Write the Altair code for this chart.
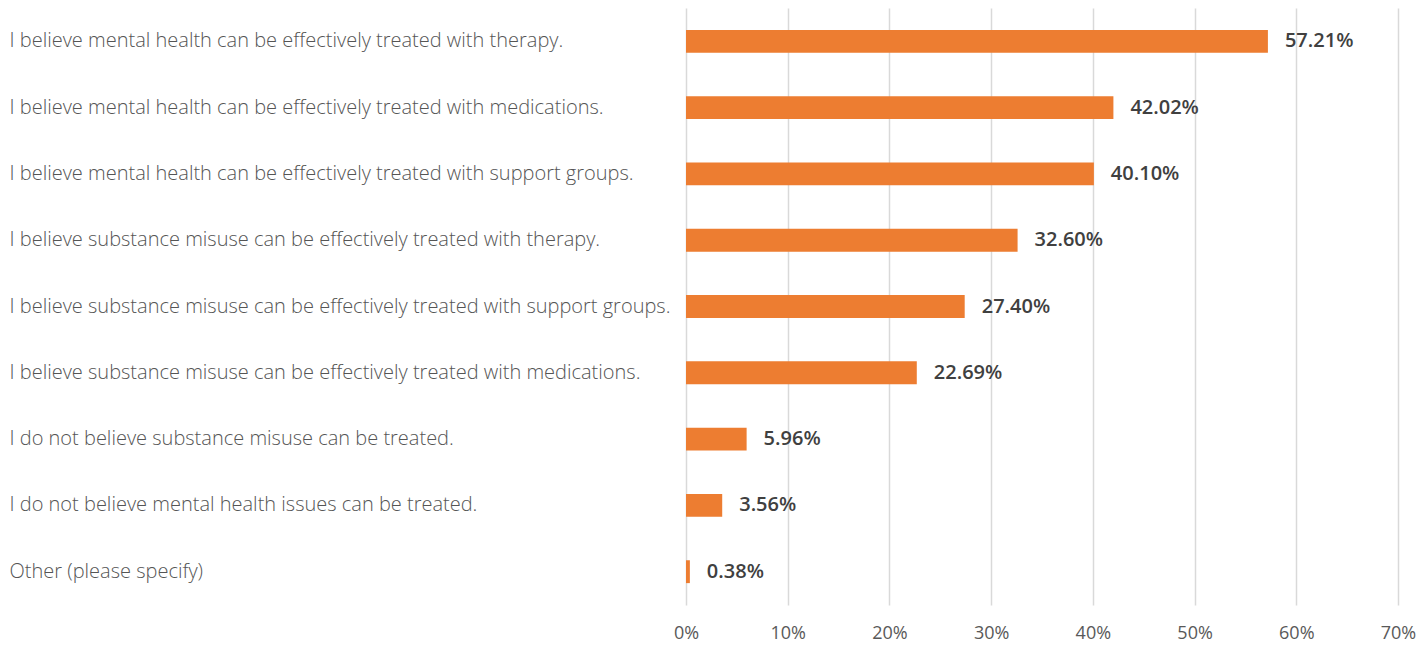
import altair as alt
import pandas as pd

categories = [
    "I believe mental health can be effectively treated with therapy.",
    "I believe mental health can be effectively treated with medications.",
    "I believe mental health can be effectively treated with support groups.",
    "I believe substance misuse can be effectively treated with therapy.",
    "I believe substance misuse can be effectively treated with support groups.",
    "I believe substance misuse can be effectively treated with medications.",
    "I do not believe substance misuse can be treated.",
    "I do not believe mental health issues can be treated.",
    "Other (please specify)",
]
values = [57.21, 42.02, 40.10, 32.60, 27.40, 22.69, 5.96, 3.56, 0.38]
labels = ["57.21%", "42.02%", "40.10%", "32.60%", "27.40%", "22.69%", "5.96%", "3.56%", "0.38%"]
ticks = [0, 0.1, 0.2, 0.3, 0.4, 0.5, 0.6, 0.7]

df = pd.DataFrame({
    "cat": categories,
    "val": [v / 100 for v in values],
    "lab": labels,
})

y = alt.Y(
    "cat:N",
    sort=categories,
    scale=alt.Scale(paddingInner=0.655, paddingOuter=0.33),
    axis=alt.Axis(
        title=None, ticks=False, domain=False, grid=False,
        labelAlign="left", labelPadding=677, labelLimit=700,
        labelFont="Open Sans", labelFontWeight=300, labelFontSize=20,
        labelColor="#555555",
    ),
)
x = alt.X(
    "val:Q",
    scale=alt.Scale(domain=[0, 0.7], nice=False),
    axis=alt.Axis(
        title=None, format=".0%", values=ticks,
        ticks=False, domain=False, grid=True, gridColor="#d9d9d9", gridWidth=1.5,
        labelFont="Open Sans", labelFontSize=18, labelColor="#595959",
        labelPadding=19, labelBaseline="top", labelFlush=False, labelAlign="center",
    ),
)

bars = alt.Chart(df).mark_bar(color="#ED7D31").encode(x=x, y=y)
text = alt.Chart(df).mark_text(
    align="left", dx=17, font="Open Sans", fontSize=20, fontWeight=600, color="#404040"
).encode(x="val:Q", y=alt.Y("cat:N", sort=categories), text="lab:N")

chart = (bars + text).properties(
    width=712, height=597,
    autosize=alt.AutoSizeParams(type="none"),
    padding={"left": 678, "top": 0, "right": 21, "bottom": 40},
).configure_view(stroke=None)

chart.save("out.html", embed_options={"renderer": "svg", "actions": False})
